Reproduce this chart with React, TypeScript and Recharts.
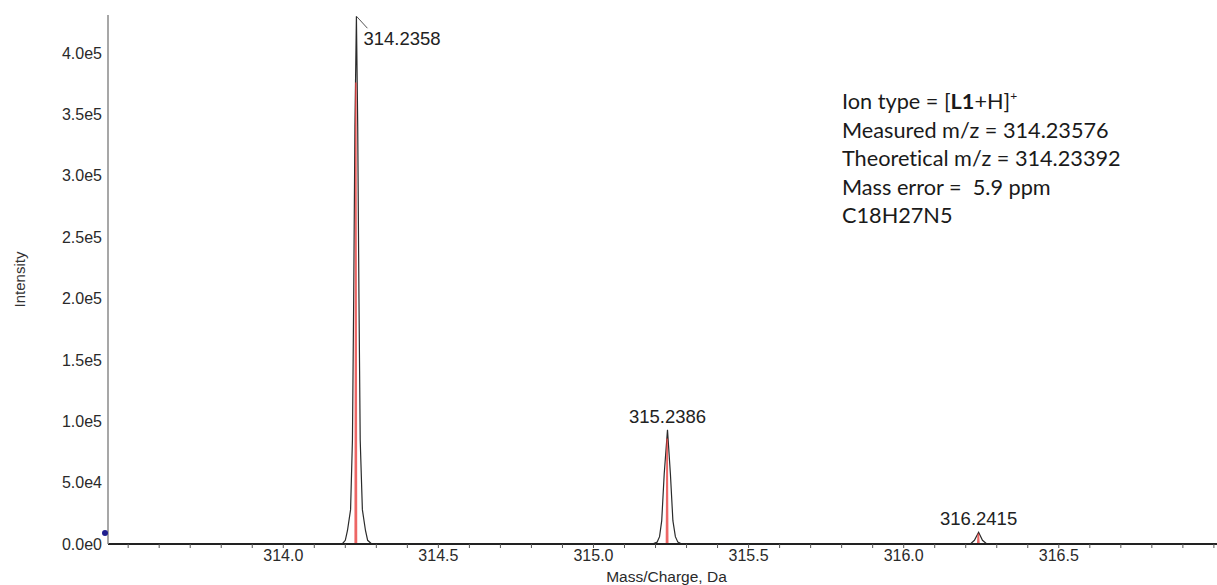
import React from "react";
import {
  ComposedChart,
  Line,
  Scatter,
  XAxis,
  YAxis,
  Label,
  ReferenceDot,
} from "recharts";

// measured profile spectrum (m/z, intensity)
const profileMz = [
  313.435,
  314.19, 314.2, 314.207, 314.217, 314.223, 314.227, 314.231, 314.2358,
  314.24, 314.244, 314.248, 314.255, 314.265, 314.272, 314.285,
  315.19, 315.205, 315.213, 315.22, 315.228, 315.2386,
  315.248, 315.256, 315.264, 315.272, 315.285,
  316.215, 316.228, 316.2415, 316.254, 316.268,
  317.01,
];
const profileIntensity = [
  0,
  0, 3000, 11000, 28000, 85000, 200000, 340000, 430000,
  340000, 200000, 85000, 28000, 11000, 3000, 0,
  0, 1500, 6000, 19000, 57000, 93000,
  57000, 19000, 6000, 1500, 0,
  0, 3000, 9500, 3000, 0,
  0,
];

// theoretical isotope pattern
const theoMz = [314.23392, 315.2373, 316.2406];
const theoIntensity = [376000, 86000, 8500];

// labelled centroids
const peakMz = [314.2358, 315.2386, 316.2415];
const peakIntensity = [430000, 93000, 9500];
const peakLabels = ["314.2358", "315.2386", "316.2415"];

const xTicks = [
  313.5, 313.6, 313.7, 313.8, 313.9, 314.0, 314.1, 314.2, 314.3, 314.4,
  314.5, 314.6, 314.7, 314.8, 314.9, 315.0, 315.1, 315.2, 315.3, 315.4,
  315.5, 315.6, 315.7, 315.8, 315.9, 316.0, 316.1, 316.2, 316.3, 316.4,
  316.5, 316.6, 316.7, 316.8, 316.9, 317.0,
];
const xLabelTicks = [314.0, 314.5, 315.0, 315.5, 316.0, 316.5];
const yTicks = [0, 50000, 100000, 150000, 200000, 250000, 300000, 350000, 400000];

const markerIntensity = 9000;

const infoLines = [
  "Measured m/z = 314.23576",
  "Theoretical m/z = 314.23392",
  "Mass error =  5.9 ppm",
  "C18H27N5",
];

const X_MIN = 313.435;
const X_MAX = 317.01;
const TICK_FONT = "'Liberation Sans', Arial, sans-serif";

const profile = profileMz.map((mz, i) => ({ mz, intensity: profileIntensity[i] }));
const theoSticks = theoMz.map((mz, i) => [
  { mz: mz - 0.002, intensity: 0 },
  { mz, intensity: theoIntensity[i] },
  { mz: mz + 0.002, intensity: 0 },
]);
const peaks = peakMz.map((mz, i) => ({ mz, intensity: peakIntensity[i], label: peakLabels[i] }));

const fmtX = (v: number) =>
  xLabelTicks.some((t) => Math.abs(t - v) < 1e-6) ? v.toFixed(1) : "";
const fmtY = (v: number) => v.toExponential(1).replace("e+", "e");

function PeakLabel(props: any) {
  const { cx, cy, payload } = props;
  if (cx == null || cy == null) return null;
  const style = { fontFamily: TICK_FONT, fontSize: 18.5, fill: "#222" };
  if (payload.mz === peakMz[0]) {
    // tallest peak: label pushed to the right with a leader line
    return (
      <g>
        <line x1={cx} y1={cy} x2={cx + 11} y2={cy + 12} stroke="#555" strokeWidth={1} />
        <text x={cx + 7} y={cy + 29} {...style}>
          {payload.label}
        </text>
      </g>
    );
  }
  return (
    <text x={cx} y={cy - 7} textAnchor="middle" {...style}>
      {payload.label}
    </text>
  );
}

function IntensityLabel(props: any) {
  const vb = props.viewBox || {};
  const y = (vb.y ?? 15) + (vb.height ?? 529) / 2;
  return (
    <text
      x={19}
      y={y}
      transform={`rotate(-90, 19, ${y})`}
      textAnchor="middle"
      dominantBaseline="central"
      fontFamily={TICK_FONT}
      fontSize={15}
      fill="#333"
    >
      Intensity
    </text>
  );
}

export default function App() {
  return (
    <div
      style={{
        position: "absolute",
        left: 0,
        top: 0,
        width: 1217,
        height: 585,
        background: "#fff",
      }}
    >
      <ComposedChart width={1217} height={585} margin={{ top: 15, right: 0, bottom: 0, left: 0 }}>
        <XAxis
          type="number"
          dataKey="mz"
          domain={[X_MIN, X_MAX]}
          allowDataOverflow
          ticks={xTicks}
          tickFormatter={fmtX}
          interval={0}
          height={41}
          tickSize={4}
          tickMargin={2}
          axisLine={{ stroke: "#222", strokeWidth: 2 }}
          tickLine={{ stroke: "#555" }}
          tick={{ fill: "#2a2a2a", fontSize: 16, fontFamily: TICK_FONT }}
        >
          <Label
            value="Mass/Charge, Da"
            position="insideBottom"
            offset={3}
            dx={4}
            style={{ fontFamily: TICK_FONT, fontSize: 15.5, fill: "#2a2a2a" }}
          />
        </XAxis>
        <YAxis
          type="number"
          dataKey="intensity"
          domain={[0, 431000]}
          allowDataOverflow
          ticks={yTicks}
          tickFormatter={fmtY}
          interval={0}
          width={108}
          tickSize={4}
          tickMargin={2}
          tickLine={false}
          axisLine={{ stroke: "#8a8a8a", strokeWidth: 1.5 }}
          tick={{ fill: "#2a2a2a", fontSize: 16, fontFamily: TICK_FONT }}
        >
          <Label content={IntensityLabel} />
        </YAxis>
        <Line
          data={profile}
          dataKey="intensity"
          type="linear"
          stroke="#2b2b2b"
          strokeWidth={1.2}
          dot={false}
          activeDot={false}
          isAnimationActive={false}
        />
        {theoSticks.map((stick, i) => (
          <Line
            key={i}
            data={stick}
            dataKey="intensity"
            type="linear"
            stroke="#e8403f"
            strokeOpacity={0.8}
            strokeWidth={1.6}
            dot={false}
            activeDot={false}
            isAnimationActive={false}
          />
        ))}
        <Scatter data={peaks} dataKey="intensity" shape={PeakLabel} isAnimationActive={false} />
        <ReferenceDot
          x={X_MIN}
          y={markerIntensity}
          ifOverflow="visible"
          shape={(p: any) => <circle cx={p.cx - 3} cy={p.cy} r={3} fill="#1f1f8f" />}
        />
      </ComposedChart>
      <svg
        width={1217}
        height={585}
        style={{ position: "absolute", left: 0, top: 0, pointerEvents: "none" }}
      >
        <g
          fontFamily="Lato, 'Open Sans', sans-serif"
          fontSize={21.7}
          fill="#1a1a1a"
          style={{ fontVariantLigatures: "none" }}
        >
          <text x={842} y={109}>
            Ion type = [<tspan fontWeight="bold">L1</tspan>+H]
            <tspan fontSize={12} dy={-9}>+</tspan>
          </text>
          {infoLines.map((line, i) => (
            <text key={i} x={842} y={137.5 + i * 28.6} xmlSpace="preserve">
              {line}
            </text>
          ))}
        </g>
      </svg>
    </div>
  );
}
